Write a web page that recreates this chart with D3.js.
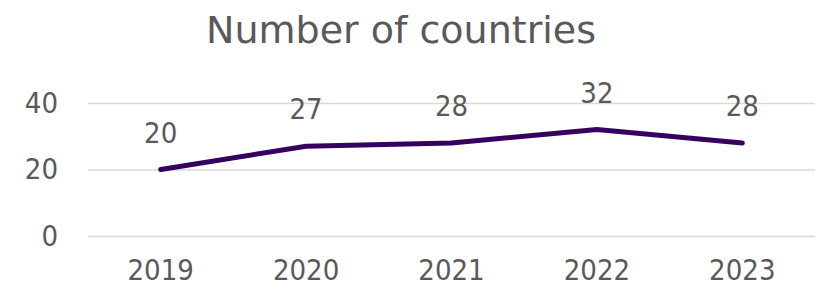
<!DOCTYPE html>
<html>
<head>
<meta charset="utf-8">
<script src="https://cdn.jsdelivr.net/npm/d3@7"></script>
<style>
body { margin: 0; background: #fff; }
text { font-family: "DejaVu Sans Condensed", "DejaVu Sans", sans-serif; fill: #595959; }
</style>
</head>
<body>
<script>
var years = ["2019", "2020", "2021", "2022", "2023"];
var countries = [20, 27, 28, 32, 28];
var yTicks = [0, 20, 40];

var width = 816, height = 289;
var margin = {top: 103, right: 1, bottom: 53, left: 88};

var svg = d3.select("body").append("svg")
    .attr("width", width)
    .attr("height", height);

var x = d3.scaleBand().domain(years).range([margin.left, width - margin.right]);
var y = d3.scaleLinear().domain([0, 40]).range([height - margin.bottom, margin.top]);

svg.append("text")
    .attr("x", 401)
    .attr("y", 43)
    .attr("text-anchor", "middle")
    .style("font-family", "'DejaVu Sans', sans-serif")
    .style("font-size", "38px")
    .text("Number of countries");

// gridlines + y labels
var yAxis = svg.append("g")
    .attr("transform", "translate(" + margin.left + ",0)")
    .call(d3.axisLeft(y).tickValues(yTicks).tickSize(-(width - margin.left - margin.right)).tickPadding(30));
yAxis.select(".domain").remove();
yAxis.selectAll(".tick line").attr("stroke", "#d9d9d9").attr("stroke-width", 1.5);
yAxis.selectAll(".tick text").style("font-size", "29px").attr("fill", "#595959");

var xAxis = svg.append("g")
    .attr("transform", "translate(0," + (height - margin.bottom) + ")")
    .call(d3.axisBottom(x).tickSize(0).tickPadding(23));
xAxis.select(".domain").remove();
xAxis.selectAll(".tick text").style("font-size", "29px").attr("fill", "#595959");

var line = d3.line()
    .x(function(d, i) { return x(years[i]) + x.bandwidth() / 2; })
    .y(function(d) { return y(d); });

svg.append("path")
    .datum(countries)
    .attr("fill", "none")
    .attr("stroke", "#35005e")
    .attr("stroke-width", 5)
    .attr("stroke-linecap", "round")
    .attr("stroke-linejoin", "round")
    .attr("d", line);

svg.selectAll(".lbl")
    .data(countries)
    .enter().append("text")
    .attr("class", "lbl")
    .attr("x", function(d, i) { return x(years[i]) + x.bandwidth() / 2; })
    .attr("y", function(d) { return y(d) - 27; })
    .attr("text-anchor", "middle")
    .style("font-size", "29px")
    .text(function(d) { return d; });
</script>
</body>
</html>
